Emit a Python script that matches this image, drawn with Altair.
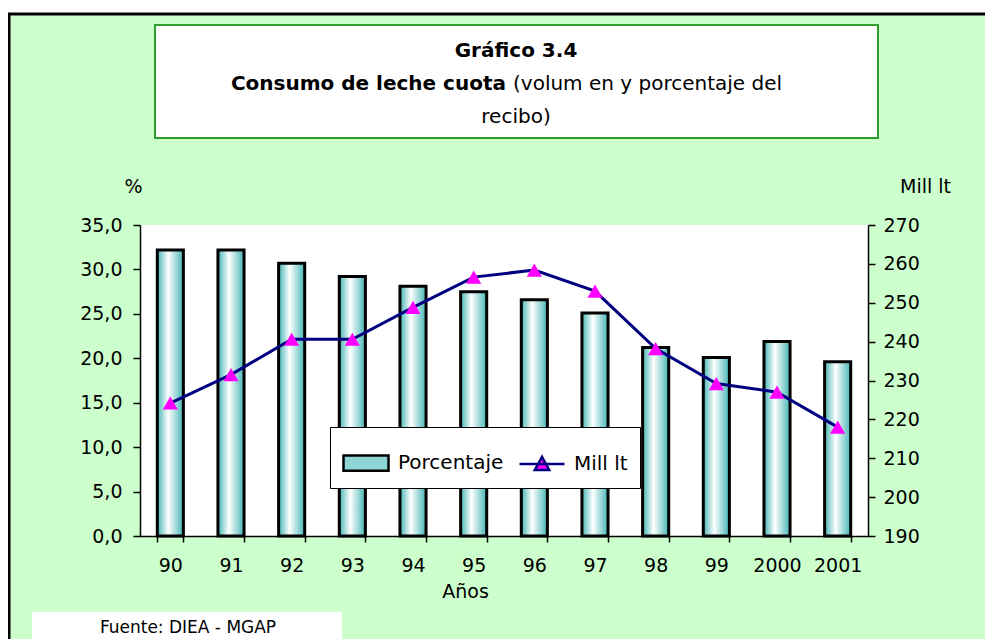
import altair as alt
import pandas as pd

# ---- data ----
years = ["90", "91", "92", "93", "94", "95", "96", "97", "98", "99", "2000", "2001"]
porcentaje = [32.2, 32.2, 30.7, 29.2, 28.1, 27.5, 26.6, 25.1, 21.2, 20.1, 21.9, 19.6]
mill_lt = [224.2, 231.5, 240.6, 240.6, 248.8, 256.6, 258.4, 253.0, 238.2, 229.2, 227.0, 218.0]
series = ["Porcentaje", "Mill lt"]

title_line1 = "Gráfico 3.4"
title_bold = "Consumo de leche cuota"
title_rest = "(volum en y porcentaje del"
title_line3 = "recibo)"
fuente = "Fuente: DIEA - MGAP"

df = pd.DataFrame({"year": years, "pct": porcentaje, "mill": mill_lt})
df["serie"] = "Mill lt"
dummy = pd.DataFrame({"a": [0]})

FONT = "DejaVu Sans"
W, H = 728, 311

x_enc = alt.X(
    "year:N", sort=years,
    scale=alt.Scale(paddingInner=0.57, paddingOuter=0.285),
    axis=alt.Axis(title="Años", labelAngle=0, tickBand="extent", tickSize=6,
                  labelBaseline="middle", labelPadding=23,
                  titleX=325, titleY=55, titleBaseline="middle", titleAlign="center",
                  titleAnchor="start"),
)

left_axis = alt.Axis(
    title="%", values=[0, 5, 10, 15, 20, 25, 30, 35], tickSize=7, labelPadding=11,
    labelExpr="replace(format(datum.value, '.1f'), '.', ',')",
    titleAngle=0, titleX=-7, titleY=-39, titleAlign="center", titleBaseline="middle",
    grid=False,
)
right_axis = alt.Axis(
    title="Mill lt", orient="right", values=list(range(190, 271, 10)), tickSize=7,
    labelPadding=8, titleAngle=0, titleX=57, titleY=-39, titleAlign="center",
    titleBaseline="middle", grid=False, format="d",
)

# ---- decorations (frame, title box, fuente box) ----
top_white = alt.Chart(dummy).mark_rect(fill="white").encode(
    x=alt.value(-140), x2=alt.value(900), y=alt.value(-230), y2=alt.value(-212))
frame_top = alt.Chart(dummy).mark_rule(color="black", strokeWidth=3).encode(
    x=alt.value(-133), x2=alt.value(900), y=alt.value(-211))
frame_left = alt.Chart(dummy).mark_rule(color="black", strokeWidth=3).encode(
    x=alt.value(-131), y=alt.value(-212), y2=alt.value(500))
title_box = alt.Chart(dummy).mark_rect(fill="white", stroke="#2E9E2E", strokeWidth=2).encode(
    x=alt.value(15), x2=alt.value(738), y=alt.value(-200), y2=alt.value(-87))
t1 = alt.Chart(dummy).mark_text(text=title_line1, font=FONT, fontSize=20, fontWeight="bold",
                                align="center", baseline="middle", color="black").encode(
    x=alt.value(376), y=alt.value(-174))
t2a = alt.Chart(dummy).mark_text(text=title_bold, font=FONT, fontSize=20, fontWeight="bold",
                                 align="right", baseline="middle", color="black").encode(
    x=alt.value(366), y=alt.value(-141))
t2b = alt.Chart(dummy).mark_text(text=title_rest, font=FONT, fontSize=20,
                                 align="left", baseline="middle", color="black").encode(
    x=alt.value(373), y=alt.value(-141))
t3 = alt.Chart(dummy).mark_text(text=title_line3, font=FONT, fontSize=20,
                                align="center", baseline="middle", color="black").encode(
    x=alt.value(376), y=alt.value(-108))
fuente_box = alt.Chart(dummy).mark_rect(fill="white").encode(
    x=alt.value(-108), x2=alt.value(202), y=alt.value(387), y2=alt.value(430))
fuente_txt = alt.Chart(dummy).mark_text(text=fuente, font=FONT, fontSize=17,
                                        align="center", baseline="middle", color="black").encode(
    x=alt.value(48), y=alt.value(403))

# ---- bars ----
grad = alt.Gradient(
    gradient="linear", x1=0, x2=1, y1=0, y2=0,
    stops=[alt.GradientStop(color="#45B5B5", offset=0),
           alt.GradientStop(color="#FFFFFF", offset=0.42),
           alt.GradientStop(color="#45B5B5", offset=1)],
)
bars = alt.Chart(df).mark_bar(fill=grad, stroke="black", strokeWidth=3).encode(
    x=x_enc,
    y=alt.Y("pct:Q", scale=alt.Scale(domain=[0, 35], nice=False), axis=left_axis),
)

# ---- line + triangles ----
yr = alt.Y("mill:Q", scale=alt.Scale(domain=[190, 270], nice=False, zero=False), axis=right_axis)
line = alt.Chart(df).mark_line(color="#000080", strokeWidth=3).encode(x=x_enc, y=yr)
pts = alt.Chart(df).mark_point(shape="triangle-up", filled=True, color="#FF00FF",
                               size=230, opacity=1).encode(x=x_enc, y=yr)

rect_path = "M-1,-0.34H1V0.34H-1Z"
tri_path = "M-1,0H1M0,-0.32L0.32,0.26L-0.32,0.26Z"
leg = alt.Legend(title=None, orient="none", legendX=190, legendY=202, direction="horizontal",
                 fillColor="white", strokeColor="black", padding=12, symbolSize=2025,
                 symbolStrokeWidth=2.5, labelFont=FONT, labelFontSize=20, labelColor="black",
                 labelOffset=8, columnPadding=10, symbolOpacity=1)
legend_layer = alt.Chart(df).mark_point(filled=True, opacity=1).encode(
    x=x_enc, y=yr,
    shape=alt.Shape("serie:N", scale=alt.Scale(domain=series, range=[rect_path, tri_path]), legend=leg),
    fill=alt.Fill("serie:N", scale=alt.Scale(domain=series, range=["#8ED6D6", "#FF00FF"]), legend=leg),
    stroke=alt.Stroke("serie:N", scale=alt.Scale(domain=series, range=["black", "#000080"]), legend=leg),
).transform_filter("false")

right = alt.layer(line, pts, legend_layer)

chart = alt.layer(
    top_white, frame_top, frame_left, title_box, t1, t2a, t2b, t3, fuente_box, fuente_txt,
    bars, right,
).resolve_scale(y="independent").properties(
    width=W, height=H,
    padding={"left": 132, "top": 217, "right": 117, "bottom": 103},
    autosize=alt.AutoSizeParams(type="none"),
    background="#CCFFCC",
).configure_view(fill="white", stroke=None).configure_axis(
    labelFont=FONT, labelFontSize=19, labelColor="black",
    titleFont=FONT, titleFontSize=19, titleFontWeight="normal", titleColor="black",
    domainColor="black", tickColor="black", domainWidth=1.5, tickWidth=1.5,
)

chart.save("out.html", embed_options={"renderer": "svg", "actions": False})
